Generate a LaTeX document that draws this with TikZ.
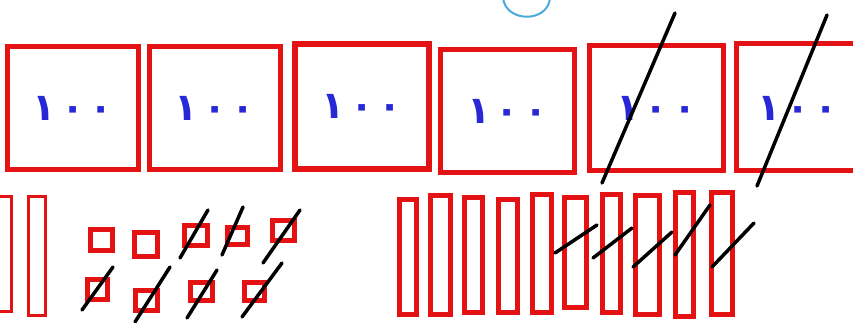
\documentclass[tikz,border=0pt]{standalone}
\usepackage{fontspec}
\newfontfamily\arabicfont[Script=Arabic,LetterSpace=14]{DejaVu Sans Bold}
\definecolor{boxred}{RGB}{228,18,18}
\definecolor{numblue}{RGB}{40,40,215}
\definecolor{arcblue}{RGB}{75,170,220}
\begin{document}
\begin{tikzpicture}[x=1pt,y=-1pt,
  hundred/.style={draw=boxred, line width=5pt, rectangle, inner sep=0pt,
    font=\arabicfont\fontsize{38}{40}\selectfont, text=numblue},
  unitsq/.style={draw=boxred, line width=5pt, rectangle, inner sep=0pt},
  tenbar/.style={draw=boxred, line width=4.5pt, rectangle, inner sep=0pt},
  thinbar/.style={draw=boxred, line width=3pt, rectangle, inner sep=0pt},
  strike/.style={draw=black, line width=3.5pt, line cap=round},
  sz/.style 2 args={minimum width=#1pt, minimum height=#2pt}]
\useasboundingbox (0,0) rectangle (853,323);
\clip (0,0) rectangle (853,323);
\fill[white] (0,0) rectangle (853,323);
% light blue arc at the top
\draw[arcblue, line width=2pt] (503,-2) .. controls (506,23) and (548,23) .. (550,-2);
% hundreds
\node[hundred, sz={131}{123}] (b1) at (73,108) {١٠٠};
\node[hundred, sz={131}{123}] (b2) at (215,108) {١٠٠};
\node[hundred, line width=6pt, sz={134}{125}] (b3) at (362,106.5) {١٠٠};
\node[hundred, sz={134}{123}] (b4) at (507.5,111) {١٠٠};
\node[hundred, sz={134}{125}] (b5) at (656.5,108) {١٠٠};
\node[hundred, sz={134}{127}] (b6) at (803,107) {};
\node[font=\arabicfont\fontsize{38}{40}\selectfont, text=numblue, inner sep=0pt] (t6) at (798,108) {١٠٠};
% tens at the left
\node[thinbar, sz={17}{115}] (la) at (3,254) {};
\node[thinbar, sz={17}{119}] (lb) at (37,256) {};
% units
\node[unitsq, sz={22}{21}] (s1) at (101.5,240) {};
\node[unitsq, sz={23}{24}] (s2) at (146,244.5) {};
\node[unitsq, sz={23}{20}] (s3) at (196,235.5) {};
\node[unitsq, sz={20}{17}] (s4) at (237.5,236) {};
\node[unitsq, sz={22}{20}] (s5) at (283.5,230.5) {};
\node[unitsq, sz={20}{20}] (u1) at (97.5,289.5) {};
\node[unitsq, sz={22}{20}] (u2) at (146.5,300.5) {};
\node[unitsq, sz={22}{18}] (u3) at (201.5,291.5) {};
\node[unitsq, sz={20}{18}] (u4) at (254.5,291.5) {};
% tens in the middle
\node[tenbar, sz={17}{115}] (r1) at (408,257) {};
\node[tenbar, sz={20}{119}] (r2) at (440.5,255) {};
\node[tenbar, sz={18}{115}] (r3) at (473.5,255) {};
\node[tenbar, sz={19}{113}] (r4) at (508,256) {};
\node[tenbar, sz={19}{118}] (r5) at (542,253.5) {};
\node[tenbar, sz={22}{110}] (r6) at (575.5,252.5) {};
\node[tenbar, sz={18}{118}] (r7) at (611.5,253.5) {};
\node[tenbar, sz={24}{119}] (r8) at (647.5,255) {};
\node[tenbar, sz={18}{124}] (r9) at (684.5,254.5) {};
\node[tenbar, sz={21}{122}] (r10) at (722,253.5) {};
% strike-through marks
\draw[strike] (675,13) -- (602,183);
\draw[strike] (827,15) -- (757,186);
\draw[strike] (208,210) -- (180,258);
\draw[strike] (243,207) -- (222,255);
\draw[strike] (300,210) -- (263,263);
\draw[strike] (113,267) -- (82,310);
\draw[strike] (170,267) -- (135,322);
\draw[strike] (217,270) -- (187,318);
\draw[strike] (282,263) -- (242,317);
\draw[strike] (555,253) -- (597,225);
\draw[strike] (593,258) -- (632,228);
\draw[strike] (633,267) -- (672,232);
\draw[strike] (675,255) -- (710,205);
\draw[strike] (712,267) -- (754,223);
\end{tikzpicture}
\end{document}
